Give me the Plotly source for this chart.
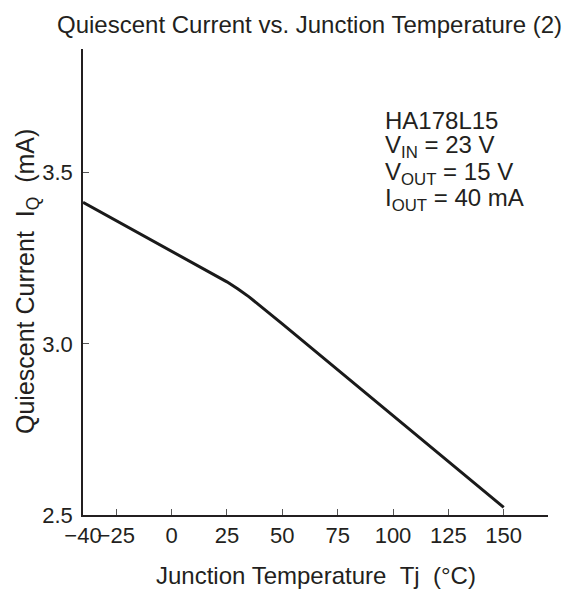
import plotly.graph_objects as go

# Data
temp_c = [-40, -25, -10, 0, 10, 20, 25, 30, 35, 50, 75, 100, 125, 150]
iq_ma = [3.413, 3.360, 3.307, 3.271, 3.236, 3.200, 3.181, 3.160, 3.137, 3.058, 2.924, 2.790, 2.656, 2.522]

x_ticks = [-40, -25, 0, 25, 50, 75, 100, 125, 150]
x_ticktext = ["−40", "−25", "0", "25", "50", "75", "100", "125", "150"]
y_ticks = [2.5, 3.0, 3.5]
y_ticktext = ["2.5", "3.0", "3.5"]

FONT = "Liberation Sans, Arial, Helvetica, sans-serif"
TXT = "#231f20"
FS = 24
TICK_FS = 22

fig = go.Figure()
fig.add_trace(go.Scatter(x=temp_c, y=iq_ma, mode="lines",
                         line=dict(color="#1a1a1a", width=3), hoverinfo="skip"))

axis_common = dict(showgrid=False, zeroline=False, showline=True, linecolor="#231f20",
                   linewidth=1.5, ticks="inside", ticklen=6, tickwidth=1,
                   tickcolor="#555555", tickangle=0,
                   tickfont=dict(family=FONT, size=TICK_FS, color=TXT))

# page body has an 8px margin, so the figure is sized/offset to put the plot area
# at x 83..548, y 49..515 within the 578x594 window
fig.update_layout(
    width=570, height=586, autosize=False,
    margin=dict(l=75, r=30, t=41, b=79),
    paper_bgcolor="white", plot_bgcolor="white",
    showlegend=False,
    font=dict(family=FONT, size=FS, color=TXT),
    xaxis=dict(range=[-40, 170], tickvals=x_ticks, ticktext=x_ticktext,
               ticklabelstandoff=0, **axis_common),
    yaxis=dict(range=[2.5, 3.861], tickvals=y_ticks, ticktext=y_ticktext,
               ticklabelstandoff=4, **axis_common),
)

ann = [
    dict(text="Quiescent Current vs. Junction Temperature (2)", x=0.488, y=1.0536,
         xanchor="center", yanchor="middle", size=FS),
    dict(text="Junction Temperature\u00a0\u00a0Tj\u00a0\u00a0(°C)", x=0.5, y=-0.1288,
         xanchor="center", yanchor="middle", size=FS),
    dict(text="Quiescent Current\u00a0\u00a0I<sub>Q</sub>\u00a0\u00a0(mA)", x=-0.1204, y=0.5,
         xanchor="center", yanchor="middle", textangle=-90, size=25),
    dict(text="HA178L15", x=0.6445, y=0.8455, xanchor="left", yanchor="middle", size=FS),
    dict(text="V<sub>IN</sub> = 23 V", x=0.6445, y=0.7897, xanchor="left", yanchor="middle", size=FS),
    dict(text="V<sub>OUT</sub> = 15 V", x=0.6445, y=0.7328, xanchor="left", yanchor="middle", size=FS),
    dict(text="I<sub>OUT</sub> = 40 mA", x=0.6445, y=0.6781, xanchor="left", yanchor="middle", size=FS),
]
for a in ann:
    sz = a.pop("size")
    fig.add_annotation(xref="paper", yref="paper", showarrow=False,
                       font=dict(family=FONT, size=sz, color=TXT), **a)

fig.write_html("out.html")
